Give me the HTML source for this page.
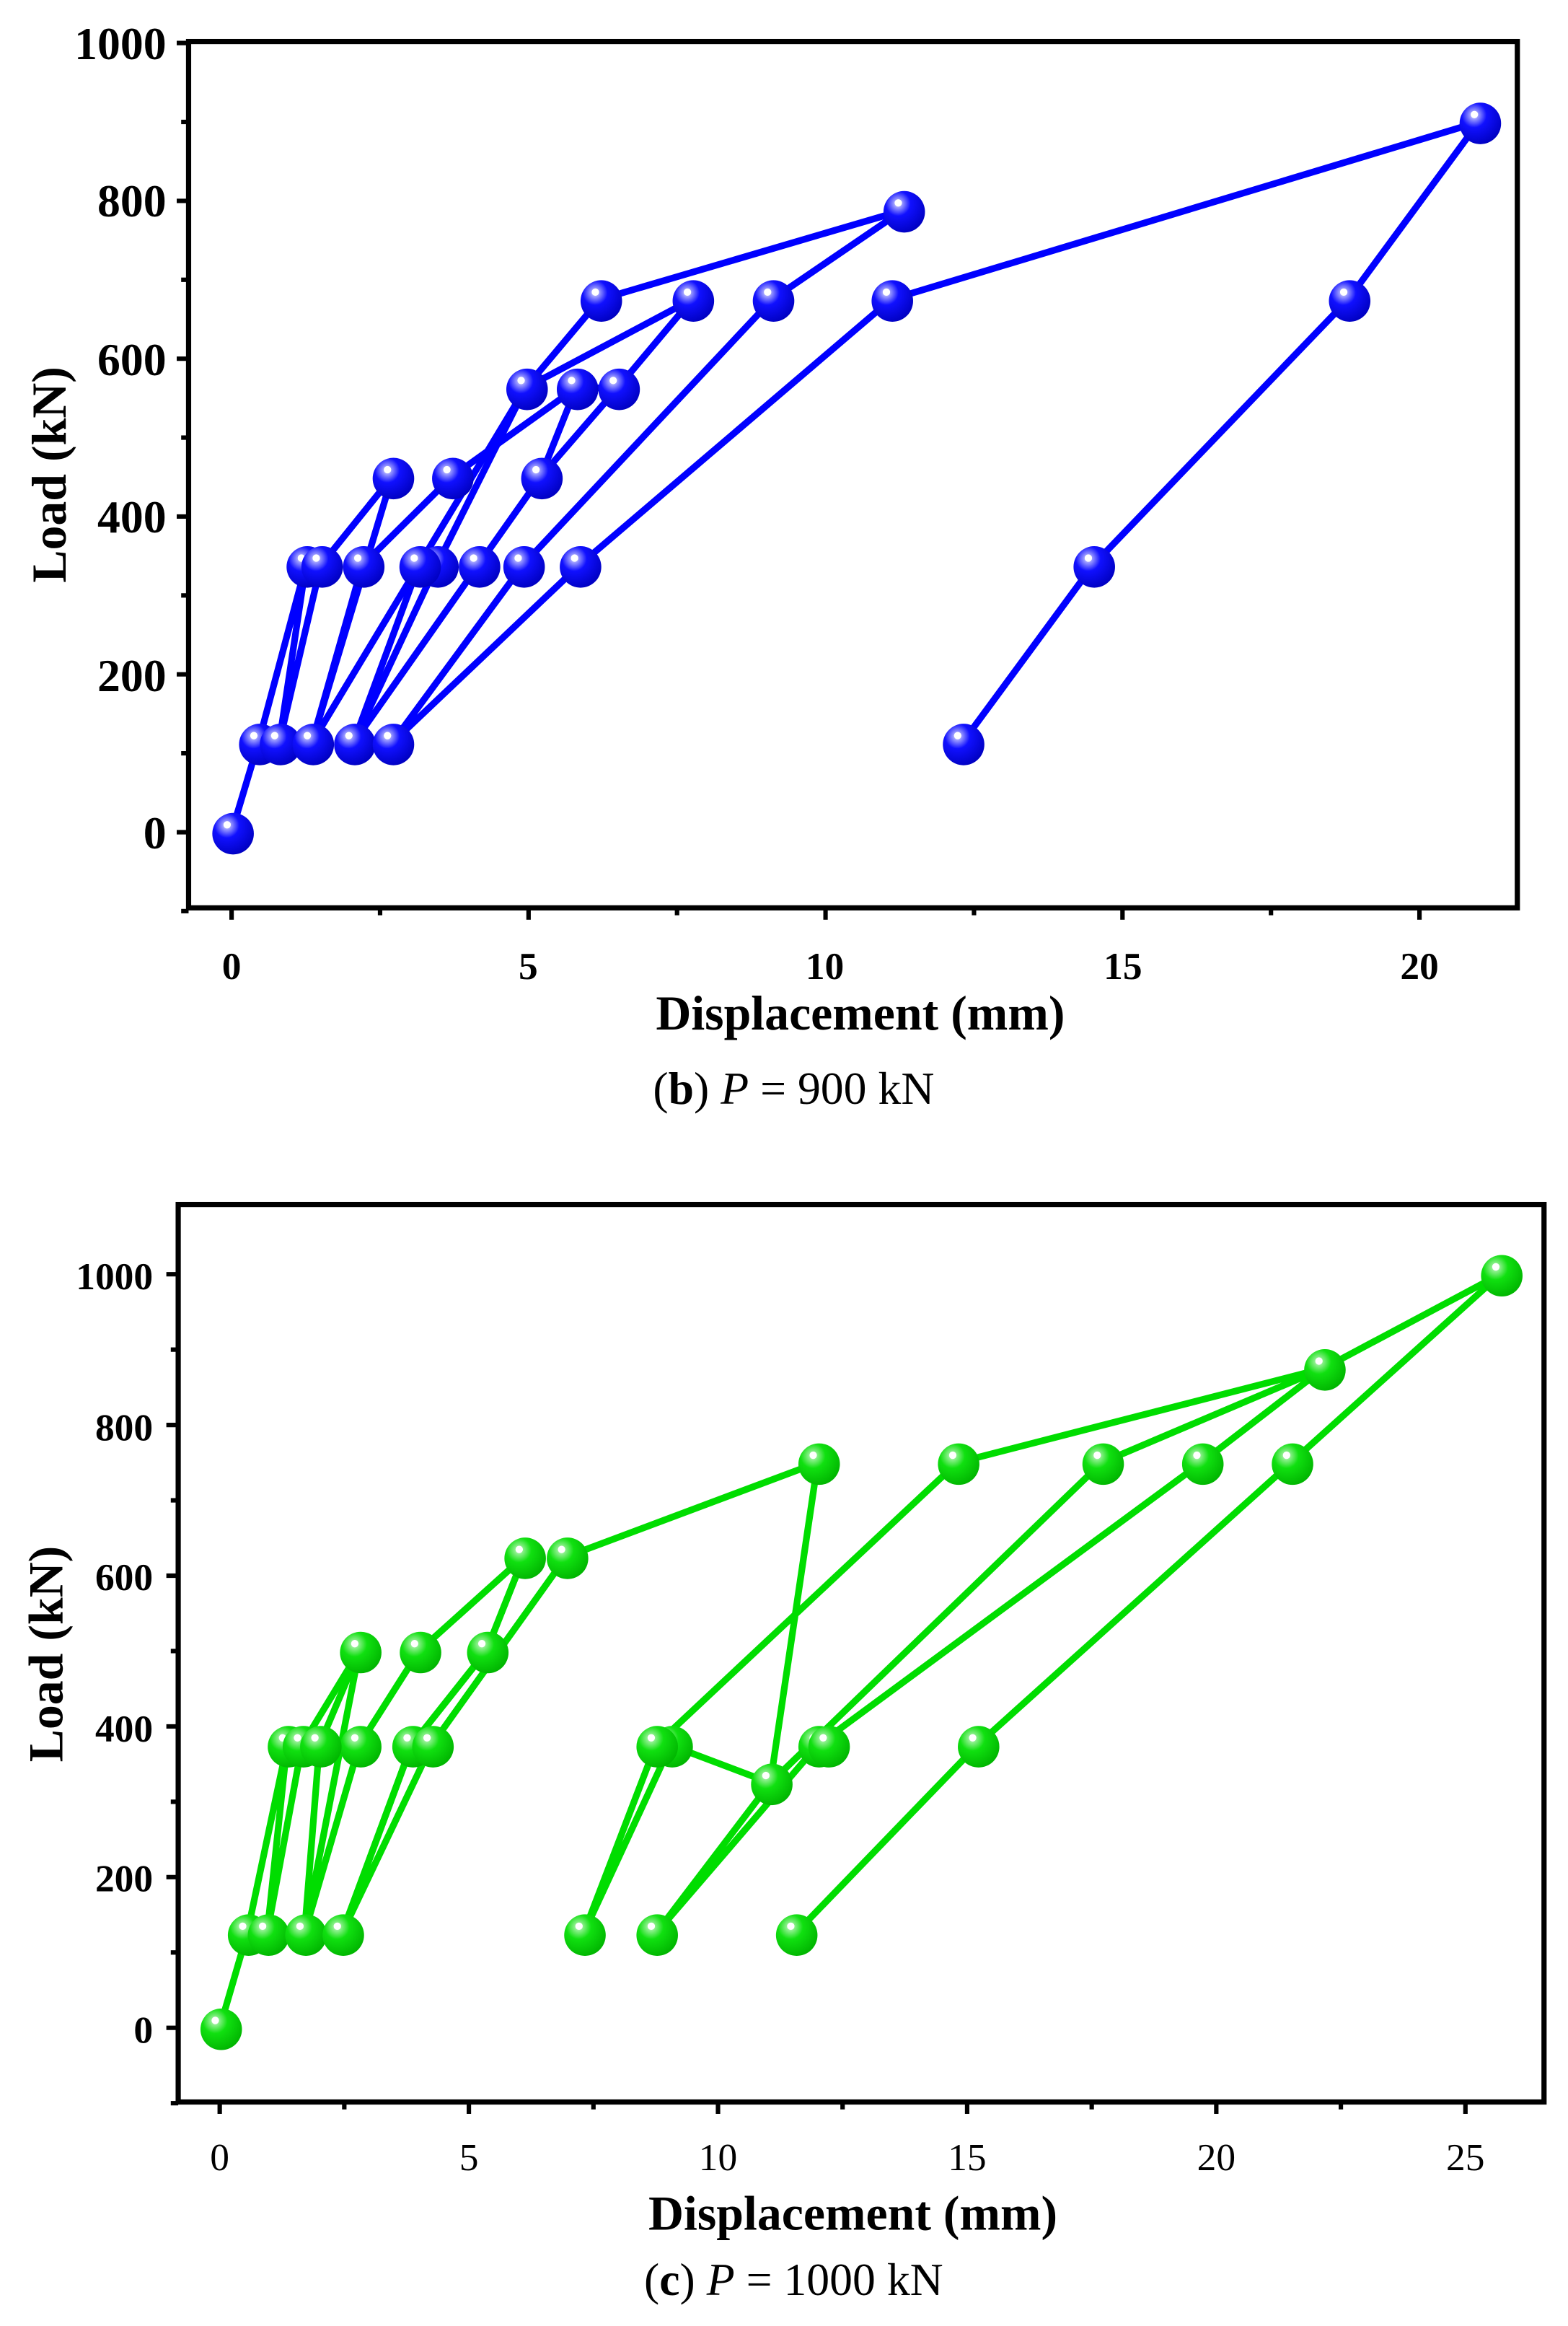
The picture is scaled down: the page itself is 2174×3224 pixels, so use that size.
<!DOCTYPE html>
<html><head><meta charset="utf-8">
<style>html,body{margin:0;padding:0;background:#fff}svg{display:block}</style>
</head><body>
<svg id="s" xmlns="http://www.w3.org/2000/svg" width="2174" height="3224" viewBox="0 0 1057 1568" font-family="Liberation Serif, serif">
<defs>
<radialGradient id="gb" cx="0.35" cy="0.3" r="0.75">
<stop offset="0" stop-color="#ffffff"/><stop offset="0.12" stop-color="#a0a0ff"/><stop offset="0.4" stop-color="#1010ff"/><stop offset="1" stop-color="#0000c0"/></radialGradient>
<radialGradient id="gg" cx="0.35" cy="0.3" r="0.75">
<stop offset="0" stop-color="#ffffff"/><stop offset="0.12" stop-color="#90f090"/><stop offset="0.4" stop-color="#10e010"/><stop offset="1" stop-color="#00b400"/></radialGradient>
</defs>
<g id="g"></g>
<g font-weight="bold" font-size="31" text-anchor="end">
<text x="112" y="40">1000</text><text x="112" y="146">800</text><text x="112" y="253">600</text>
<text x="112" y="359">400</text><text x="112" y="466">200</text><text x="112" y="572">0</text>
</g>
<g font-weight="bold" font-size="26" text-anchor="middle">
<text x="156" y="660">0</text><text x="356" y="660">5</text><text x="556" y="660">10</text>
<text x="757" y="660">15</text><text x="957" y="660">20</text>
</g>
<text x="580" y="694" font-weight="bold" font-size="33" text-anchor="middle">Displacement (mm)</text>
<text transform="translate(44,320) rotate(-90)" font-weight="bold" font-size="33" text-anchor="middle">Load (kN)</text>
<text x="535" y="744" font-size="31" text-anchor="middle">(<tspan font-weight="bold">b</tspan>) <tspan font-style="italic">P</tspan> = 900 kN</text>
<g font-weight="bold" font-size="26" text-anchor="end">
<text x="103" y="869">1000</text><text x="103" y="971">800</text><text x="103" y="1072">600</text>
<text x="103" y="1174">400</text><text x="103" y="1275">200</text><text x="103" y="1377">0</text>
</g>
<g font-size="26" text-anchor="middle">
<text x="148" y="1463">0</text><text x="316" y="1463">5</text><text x="484" y="1463">10</text>
<text x="652" y="1463">15</text><text x="820" y="1463">20</text><text x="988" y="1463">25</text>
</g>
<text x="575" y="1503" font-weight="bold" font-size="33" text-anchor="middle">Displacement (mm)</text>
<text transform="translate(42,1115) rotate(-90)" font-weight="bold" font-size="33" text-anchor="middle">Load (kN)</text>
<text x="535" y="1547" font-size="31" text-anchor="middle">(<tspan font-weight="bold">c</tspan>) <tspan font-style="italic">P</tspan> = 1000 kN</text>
</svg>
<script>
(function(){
var g=document.getElementById('g'),NS='http://www.w3.org/2000/svg';
function el(t,a){var e=document.createElementNS(NS,t);for(var k in a)e.setAttribute(k,a[k]);g.appendChild(e);return e;}
function chart(c){
  var X=function(v){return c.x0+v*c.xs},Y=function(v){return c.y0-v*c.ys};
  el('rect',{x:c.L,y:c.T,width:c.R-c.L,height:c.B-c.T,fill:'none',stroke:'#000','stroke-width':3.5});
  for(var v=c.xmin;v<=c.xmax+1e-6;v+=c.xmin2){var maj=Math.abs(v/c.xmaj-Math.round(v/c.xmaj))<1e-6;
    el('line',{x1:X(v),x2:X(v),y1:c.B,y2:c.B+(maj?8:5),stroke:'#000','stroke-width':3});}
  for(var v=c.ymin;v<=c.ymax+1e-6;v+=100){var maj=v%200==0;
    el('line',{x1:c.L,x2:c.L-(maj?8:5),y1:Y(v),y2:Y(v),stroke:'#000','stroke-width':3});}
  var pts={};
  c.lines.forEach(function(L){var s='';for(var i=0;i<L.length;i+=2){s+=X(L[i])+','+Y(L[i+1])+' ';pts[L[i]+'_'+L[i+1]]=[L[i],L[i+1]];}
    el('polyline',{points:s,fill:'none',stroke:c.col,'stroke-width':4.5,'stroke-linejoin':'round'});});
  for(var k in pts){var p=pts[k];el('circle',{cx:X(p[0])+1,cy:Y(p[1])+1,r:14,fill:'url(#'+c.grad+')'});
    el('circle',{cx:X(p[0])-3,cy:Y(p[1])-5,r:2.5,fill:'#fff'});}
}
chart({L:127,R:1023,T:28,B:612,x0:156,xs:40.05,y0:561,ys:0.532,xmin:0,xmax:20,xmin2:2.5,xmaj:5,ymin:-100,ymax:1000,col:'#0000ff',grad:'gb',
lines:[[0,0,.45,113,1.25,338,.8,113,1.5,338,2.7,450,1.35,113,2.2,338,3.7,450,5.8,563,5.2,450,4.15,338,2.05,113,3.45,338,4.95,563,6.2,675,11.3,788,9.1,675,4.9,338,2.7,113,5.85,338,11.1,675,21,900,18.8,675,14.5,338,12.3,113],
[1.35,113,3.15,338,4.95,563,7.75,675,6.5,563,5.2,450],[2.05,113,3.15,338],[5.8,563,6.5,563]]});
chart({L:120,R:1041,T:812,B:1417,x0:148,xs:33.6,y0:1367,ys:0.508,xmin:0,xmax:25,xmin2:2.5,xmaj:5,ymin:-100,ymax:1000,col:'#00dd00',grad:'gg',
lines:[[0,0,.55,125,1.35,375,.95,125,1.65,375,2.8,500,1.7,125,2.8,375,4.0,500,6.1,625,5.35,500,3.85,375,2.45,125,4.25,375,6.95,625,12.0,750,11.05,325,9.05,375,7.3,125,8.75,375,14.8,750,22.15,875,17.7,750,11.05,325,8.75,125,12.0,375,19.7,750,22.15,875,25.7,1000,21.5,750,15.2,375,11.55,125],
[1.7,125,2.0,375,2.8,500],[2.45,125,3.85,375,5.35,500,6.1,625],[12.0,375,12.2,375]]});
})();
</script>
</body></html>
